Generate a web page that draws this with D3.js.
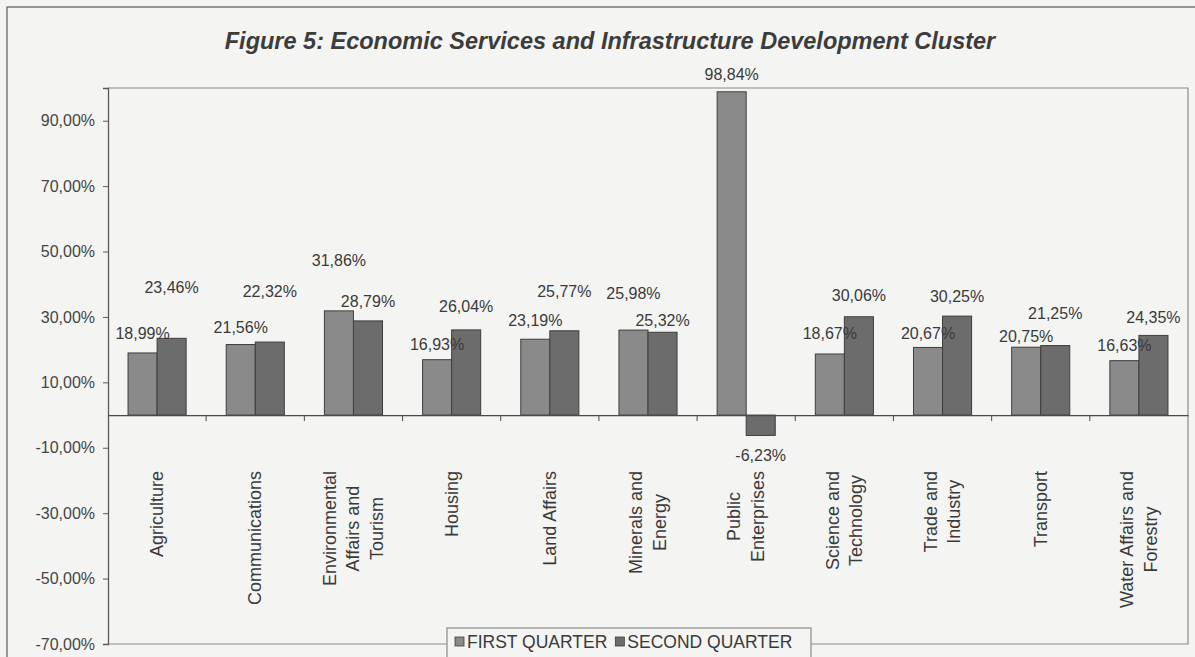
<!DOCTYPE html>
<html>
<head>
<meta charset="utf-8">
<script src="https://cdn.jsdelivr.net/npm/d3@7"></script>
<style>
  html, body { margin: 0; padding: 0; background: #f4f4f2; }
  svg { display: block; }
  text { font-family: "Liberation Sans", Arial, sans-serif; fill: #3a3a3a; }
</style>
</head>
<body>
<svg id="chart" width="1195" height="657"></svg>
<script>
// Budget spending per department, first and second quarter
const categories = [
  "Agriculture", "Communications", "Environmental Affairs and Tourism", "Housing",
  "Land Affairs", "Minerals and Energy", "Public Enterprises", "Science and Technology",
  "Trade and Industry", "Transport", "Water Affairs and Forestry"
];
const categoryLines = [
  ["Agriculture"], ["Communications"], ["Environmental", "Affairs and", "Tourism"], ["Housing"],
  ["Land Affairs"], ["Minerals and", "Energy"], ["Public", "Enterprises"], ["Science and", "Technology"],
  ["Trade and", "Industry"], ["Transport"], ["Water Affairs and", "Forestry"]
];
const firstQuarter  = [18.99, 21.56, 31.86, 16.93, 23.19, 25.98, 98.84, 18.67, 20.67, 20.75, 16.63];
const secondQuarter = [23.46, 22.32, 28.79, 26.04, 25.77, 25.32, -6.23, 30.06, 30.25, 21.25, 24.35];
const seriesNames = ["FIRST QUARTER", "SECOND QUARTER"];
const yTicks = [-70, -50, -30, -10, 10, 30, 50, 70, 90];
const yDomain = [-70, 100];

// distance (px) between each value label and the end of its bar
const firstLabelGap  = [19, 17, 50, 15, 19, 37, 17, 20, 14, 11, 15];
const secondLabelGap = [51, 51, 19, 23, 39, 12, 20, 21, 20, 32, 18];

const colors = ["#8a8a8a", "#6c6c6c"];

const svg = d3.select("#chart");
const plot = { left: 108, right: 1188, top: 88, bottom: 644 };

const locale = d3.formatLocale({ decimal: ",", thousands: " ", grouping: [3], currency: ["R", ""], minus: "-" });
const fmt = locale.format(".2f");
const pct = v => fmt(v) + "%";

// outer frame
svg.append("rect")
  .attr("x", 7).attr("y", 7).attr("width", 1200).attr("height", 700)
  .attr("fill", "none").attr("stroke", "#7a7a7a").attr("stroke-width", 1.5);

// title
svg.append("text")
  .attr("x", 610).attr("y", 49)
  .attr("text-anchor", "middle")
  .style("font-size", "23.5px").style("font-weight", "bold").style("font-style", "italic")
  .style("fill", "#3c3c3c")
  .text("Figure 5: Economic Services and Infrastructure Development Cluster");

const x0 = d3.scaleBand().domain(categories).range([plot.left, plot.right]).padding(0);
const x1 = d3.scaleBand().domain([0, 1]).range([0, x0.bandwidth()]).paddingInner(0).paddingOuter(0.69);
const y = d3.scaleLinear().domain(yDomain).range([plot.bottom, plot.top]);

// plot border (top and right)
svg.append("path")
  .attr("d", `M${plot.left},${plot.top}H${plot.right}V${plot.bottom}H${plot.left}`)
  .attr("fill", "none").attr("stroke", "#8a8a8a").attr("stroke-width", 1.2);

// y axis
const yAxis = d3.axisLeft(y).tickValues(yTicks).tickFormat(pct).tickSize(5).tickPadding(8);
const gy = svg.append("g").attr("transform", `translate(${plot.left},0)`).call(yAxis);
gy.select(".domain").attr("stroke", "#5a5a5a").attr("stroke-width", 1.3);
gy.selectAll(".tick line").attr("stroke", "#5a5a5a");
gy.selectAll(".tick text")
  .style("font-size", "16px").style("font-family", "'Liberation Sans', Arial, sans-serif")
  .style("fill", "#444").attr("x", -13);

// bars
const series = [firstQuarter, secondQuarter];
const gBars = svg.append("g");
series.forEach((vals, s) => {
  gBars.selectAll(null).data(vals).enter().append("rect")
    .attr("x", (d, i) => x0(categories[i]) + x1(s))
    .attr("width", x1.bandwidth())
    .attr("y", d => y(Math.max(0, d)))
    .attr("height", d => Math.abs(y(d) - y(0)))
    .attr("fill", colors[s])
    .attr("stroke", "#3e3e3e").attr("stroke-width", 1);
});

// category axis on the zero line
const xAxis = d3.axisBottom(x0).tickSize(0).tickFormat("");
const gx = svg.append("g").attr("transform", `translate(0,${y(0)})`).call(xAxis);
gx.select(".domain").attr("stroke", "#4a4a4a").attr("stroke-width", 1.3);
// tick marks between categories
gx.selectAll(".sep").data(categories.slice(1)).enter().append("line")
  .attr("x1", d => x0(d)).attr("x2", d => x0(d))
  .attr("y1", 0).attr("y2", 6)
  .attr("stroke", "#4a4a4a");

// category labels, rotated
const labelTop = 471;
const lineH = 23.5;
categories.forEach((c, i) => {
  const cx = x0(c) + x0.bandwidth() / 2;
  const g = svg.append("g").attr("transform", `translate(${cx},${labelTop}) rotate(-90)`);
  const lines = categoryLines[i];
  const texts = lines.map((ln, k) => g.append("text")
    .attr("y", (k - (lines.length - 1) / 2) * lineH)
    .attr("dominant-baseline", "central")
    .style("font-size", "18px")
    .text(ln));
  const widest = d3.max(texts, t => t.node().getComputedTextLength());
  texts.forEach(t => t.attr("x", -widest / 2).attr("text-anchor", "middle"));
});

// value labels
const gaps = [firstLabelGap, secondLabelGap];
series.forEach((vals, s) => {
  svg.append("g").selectAll("text").data(vals).enter().append("text")
    .attr("x", (d, i) => x0(categories[i]) + x1(s) + x1.bandwidth() / 2)
    .attr("y", (d, i) => d >= 0 ? y(d) - gaps[s][i] : y(d) + gaps[s][i])
    .attr("text-anchor", "middle")
    .attr("dominant-baseline", "central")
    .style("font-size", "16px")
    .text(d => pct(d));
});

// legend
const leg = svg.append("g").attr("transform", "translate(447,628)");
leg.append("rect").attr("width", 364).attr("height", 40)
  .attr("fill", "#f4f4f2").attr("stroke", "#8a8a8a").attr("stroke-width", 1.2);
let lx = 8;
seriesNames.forEach((name, s) => {
  leg.append("rect").attr("x", lx).attr("y", 9).attr("width", 9).attr("height", 9)
    .attr("fill", colors[s]).attr("stroke", "#3e3e3e").attr("stroke-width", 0.8);
  const t = leg.append("text").attr("x", lx + 12).attr("y", 20)
    .style("font-size", "17.5px").text(name);
  lx += 12 + t.node().getComputedTextLength() + 8;
});
</script>
</body>
</html>
